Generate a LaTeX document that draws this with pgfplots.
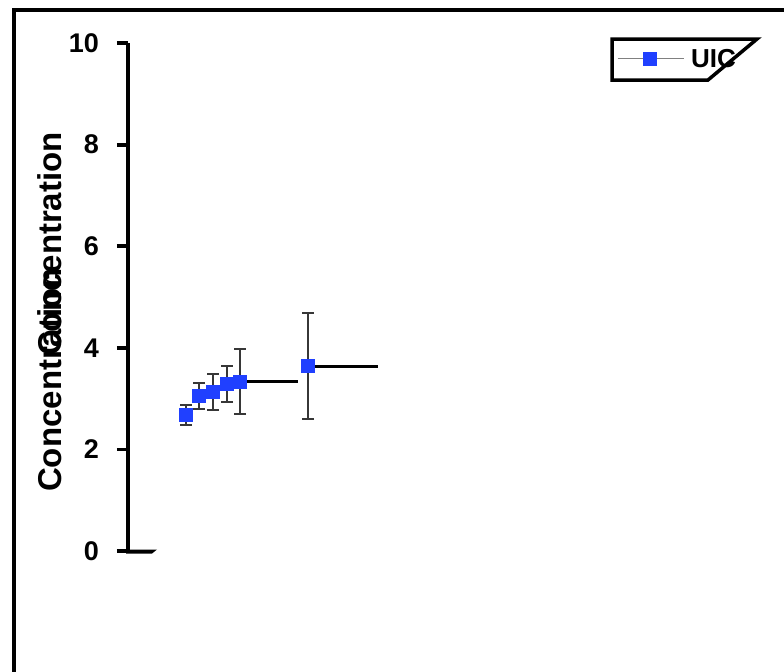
\documentclass[border=0pt]{standalone}
\usepackage{pgfplots}
\usepackage{pgfplotstable}
\pgfplotsset{compat=1.18}
\usepackage{fontspec}
\setmainfont{Liberation Sans}
\definecolor{markblue}{RGB}{32,64,255}
\definecolor{errgray}{RGB}{55,55,55}
\pgfplotstableread{
x y ex ey
58 2.68 7 0.19
71 3.05 4 0.26
85 3.13 4 0.35
99 3.29 4 0.36
112 3.33 58 0.64
180 3.64 70 1.05
}\datatable
\begin{document}
\begin{tikzpicture}
\path[use as bounding box] (0bp,0bp) rectangle (784bp,-672bp);
\draw[line width=4.5bp] (14bp,-680bp) -- (14bp,-10bp) -- (790bp,-10bp);
\begin{axis}[
 at={(128bp,-551bp)}, anchor=south west,
 scale only axis, width=656bp, height=508bp,
 xmin=0, xmax=656, ymin=0, ymax=10,
 axis x line=none, axis y line=left,
 y axis line style={line width=3.8bp, -},
 ytick={0,2,4,6,8,10},
 tick align=outside, major tick length=11bp,
 every tick/.style={black, line width=3.8bp},
 /pgf/number format/assume math mode=true,
 yticklabel style={font=\fontsize{27bp}{30bp}\selectfont\bfseries, inner sep=0pt, xshift=-18bp},
 clip=false,
 legend style={draw=none, fill=none, inner sep=0pt, at={(axis description cs:0.7454,0.9685)}, anchor=west,
   font=\fontsize{26bp}{30bp}\selectfont\bfseries,
   /tikz/every odd column/.style={column sep=5bp}},
 legend cell align=left,
 legend image code/.code={\draw[gray, line width=1bp] (0bp,0bp) -- (66bp,0bp);
   \fill[markblue] (26bp,-6.5bp) rectangle (39bp,6.5bp);},
]
\addplot[only marks, mark=none, forget plot,
  error bars/.cd, x dir=plus, x explicit, error mark=none,
  error bar style={black, line width=3bp}]
  table[x=x, y=y, x error=ex] {\datatable};
\addplot[only marks, mark=none, forget plot,
  error bars/.cd, y dir=both, y explicit, error mark=-,
  error bar style={errgray, line width=2bp},
  error mark options={rotate=90, errgray, line width=2bp, mark size=6bp}]
  table[x=x, y=y, y error=ey] {\datatable};
\addplot[only marks, mark=square*, mark size=6.5bp, markblue, mark options={fill=markblue, draw=markblue}]
  table[x=x, y=y] {\datatable};
\addlegendentry{UIC}
\end{axis}
\fill (126bp,-549.5bp) -- (157bp,-549.5bp) -- (152bp,-553.5bp) -- (126bp,-553.5bp) -- cycle;
\draw[line width=3.5bp] (757bp,-39bp) -- (612bp,-39bp) -- (612bp,-80bp) -- (708bp,-80bp) -- cycle;
\node[rotate=90, anchor=base, font=\fontsize{33bp}{36bp}\selectfont\bfseries] at (61bp,-380bp) {Concentration};
\node[rotate=90, anchor=base, font=\fontsize{33bp}{36bp}\selectfont\bfseries] at (61bp,-244bp) {Concentration};
\end{tikzpicture}
\end{document}
